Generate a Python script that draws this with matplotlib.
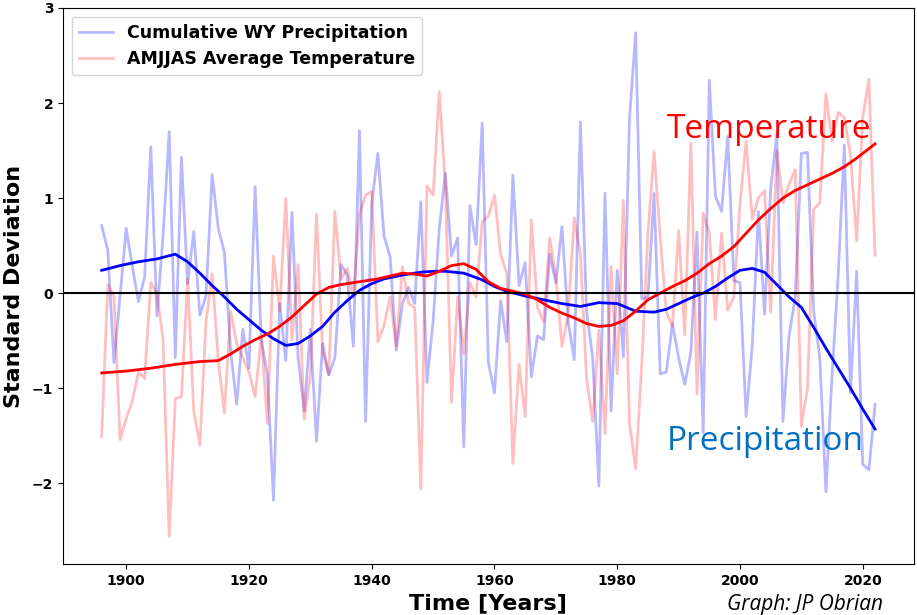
import numpy as np
import matplotlib
matplotlib.use('Agg')
import matplotlib.pyplot as plt

years = list(range(1896, 2023))

# standardized anomalies
precip = [0.71, 0.45, -0.73, -0.03, 0.68, 0.28, -0.09, 0.17, 1.54, -0.24,
          0.6, 1.70, -0.68, 1.43, 0.1, 0.65, -0.23, -0.03, 1.25, 0.68,
          0.43, -0.6, -1.17, -0.38, -0.79, 1.12, -0.49, -0.86, -2.18, -0.11,
          -0.71, 0.85, -0.68, -1.24, -0.38, -1.56, -0.53, -0.86, -0.68, 0.3,
          0.19, -0.56, 1.71, -1.35, 0.94, 1.47, 0.6, 0.38, -0.6, -0.11,
          0.06, -0.11, 0.96, -0.94, -0.3, 0.68, 1.26, 0.39, 0.58, -1.62,
          0.92, 0.51, 1.79, -0.73, -1.05, -0.08, -0.51, 1.24, 0.08, 0.32,
          -0.88, -0.45, -0.49, 0.41, 0.11, 0.7, -0.3, -0.7, 1.8, -0.19,
          -0.68, -2.03, 1.05, -1.24, 0.24, -0.67, 1.84, 2.74, -0.06, -0.04,
          1.05, -0.85, -0.83, -0.32, -0.68, -0.96, -0.62, 0.64, -1.47, 2.24,
          1.02, 0.86, 1.65, 0.13, 0.11, -1.3, -0.55, 0.86, -0.22, 1.1,
          1.67, -1.35, -0.45, -0.04, 1.47, 1.48, -0.19, -0.68, -2.09, -0.86,
          0.19, 1.56, -1.05, 0.23, -1.8, -1.86, -1.17]

temp = [-1.51, 0.09, -0.04, -1.54, -1.32, -1.13, -0.83, -0.9, 0.11, 0.0,
        -0.49, -2.56, -1.11, -1.09, 0.15, -1.24, -1.6, -0.3, 0.2, -0.71,
        -1.26, -0.19, -0.53, -0.68, -0.83, -1.09, -0.45, -1.37, 0.39, -0.19,
        1.0, -0.49, 0.3, -1.33, -0.86, 0.83, -0.62, -0.86, 0.86, 0.15,
        0.26, -0.04, 0.83, 1.03, 1.07, -0.51, -0.34, -0.04, -0.56, 0.28,
        -0.11, -0.15, -2.06, 1.13, 1.03, 2.12, 1.13, -1.15, -0.04, -0.64,
        0.11, -0.04, 0.75, 0.81, 1.03, 0.41, 0.21, -1.79, -0.75, -1.3,
        0.77, -0.15, -0.3, 0.58, 0.17, -0.56, -0.23, 0.79, 0.41, -0.9,
        -1.35, -0.39, -1.48, 0.28, -0.85, 0.98, -1.37, -1.85, -0.74, 0.63,
        1.49, 0.59, -0.2, -0.35, 0.66, -0.44, 1.58, -1.06, 0.84, 0.63,
        -0.28, 0.63, -0.18, -0.04, 0.94, 1.6, 0.78, 1.0, 1.08, -0.2,
        1.5, 0.95, 1.15, 1.3, -1.4, -1.0, 0.88, 0.95, 2.1, 1.6,
        1.9, 1.85, 1.45, 0.55, 1.85, 2.25, 0.4]

# smoothed trend lines
precip_trend_years = [1896, 1899, 1902, 1905, 1908, 1910, 1912, 1914, 1916, 1918,
                      1920, 1922, 1924, 1926, 1928, 1930, 1932, 1934, 1936, 1938,
                      1940, 1942, 1945, 1948, 1950, 1952, 1955, 1958, 1960, 1962,
                      1965, 1968, 1971, 1974, 1977, 1980, 1983, 1986, 1988, 1990,
                      1992, 1994, 1996, 1998, 2000, 2002, 2004, 2006, 2008, 2010,
                      2012, 2014, 2016, 2018, 2020, 2022]
precip_trend = [0.24, 0.29, 0.33, 0.36, 0.41, 0.33, 0.21, 0.08, -0.04, -0.17,
                -0.28, -0.39, -0.48, -0.55, -0.53, -0.45, -0.35, -0.2, -0.08, 0.03,
                0.1, 0.15, 0.19, 0.22, 0.23, 0.23, 0.21, 0.14, 0.07, 0.02,
                -0.03, -0.07, -0.11, -0.14, -0.10, -0.11, -0.19, -0.2, -0.17, -0.11,
                -0.05, 0.0, 0.07, 0.16, 0.24, 0.26, 0.22, 0.09, -0.04, -0.15,
                -0.36, -0.58, -0.79, -1.0, -1.22, -1.43]

temp_trend_years = [1896, 1900, 1904, 1908, 1912, 1915, 1917, 1919, 1921, 1923,
                    1925, 1927, 1929, 1931, 1933, 1935, 1937, 1939, 1941, 1943,
                    1945, 1947, 1949, 1951, 1953, 1955, 1957, 1959, 1961, 1963,
                    1965, 1967, 1969, 1971, 1973, 1975, 1977, 1979, 1981, 1983,
                    1985, 1987, 1989, 1991, 1993, 1995, 1997, 1999, 2001, 2003,
                    2005, 2007, 2009, 2011, 2013, 2015, 2017, 2019, 2021, 2022]
temp_trend = [-0.84, -0.82, -0.79, -0.75, -0.72, -0.71, -0.64, -0.56, -0.49, -0.43,
              -0.35, -0.25, -0.13, -0.01, 0.06, 0.09, 0.11, 0.13, 0.15, 0.18,
              0.21, 0.2, 0.18, 0.23, 0.29, 0.31, 0.25, 0.12, 0.05, 0.02,
              -0.01, -0.07, -0.15, -0.21, -0.26, -0.32, -0.35, -0.34, -0.29, -0.19,
              -0.07, 0.0, 0.07, 0.13, 0.21, 0.31, 0.39, 0.49, 0.63, 0.77,
              0.89, 1.0, 1.08, 1.14, 1.2, 1.26, 1.33, 1.42, 1.52, 1.57]

fig = plt.figure(figsize=(9.17, 6.15), dpi=100)
ax = fig.add_axes([0.0687, 0.0829, 0.9277, 0.9041])

ax.plot(years, precip, color='blue', alpha=0.28, lw=2, label='Cumulative WY Precipitation')
ax.plot(years, temp, color='red', alpha=0.25, lw=2, label='AMJJAS Average Temperature')
ax.plot(precip_trend_years, precip_trend, color='blue', lw=2)
ax.plot(temp_trend_years, temp_trend, color='red', lw=2)
ax.axhline(0, color='black', lw=1.5)

ax.set_xlim(1889.7, 2028.3)
ax.set_ylim(-2.85, 3.0)
ax.set_yticks([-2, -1, 0, 1, 2, 3])
ax.set_xticks([1900, 1920, 1940, 1960, 1980, 2000, 2020])
for lab in ax.get_xticklabels() + ax.get_yticklabels():
    lab.set_fontweight('bold')
    lab.set_fontsize(10)

ax.set_xlabel('Time [Years]', fontsize=16, fontweight='bold', labelpad=4)
ax.set_ylabel('Standard Deviation', fontsize=16, fontweight='bold', labelpad=6)

leg = ax.legend(loc='upper left', prop={'weight': 'bold', 'size': 12.5})

ax.text(1988.1, 1.63, 'Temperature', color='red', fontsize=24, family='Open Sans')
ax.text(1988.1, -1.65, 'Precipitation', color='#0070C0', fontsize=24, family='Open Sans')
fig.text(0.793, 0.008, 'Graph: JP Obrian', fontsize=15, style='italic', family='Open Sans')

fig.savefig('out.png', dpi=100)
